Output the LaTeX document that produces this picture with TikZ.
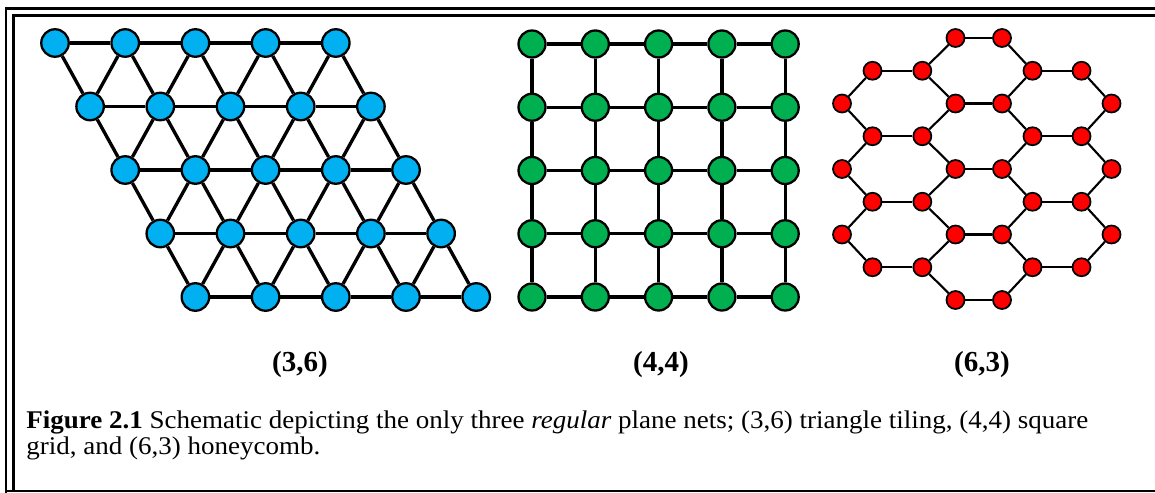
\documentclass[tikz,border=0pt]{standalone}
\usepackage{fontspec}
\setmainfont{Liberation Serif}
\usepackage{tikz}
\usetikzlibrary{positioning}
\definecolor{netblue}{HTML}{00B0F0}
\definecolor{netgreen}{HTML}{00B050}
\definecolor{netred}{HTML}{FF0000}
\tikzset{
  bluedot/.style={circle, draw=black, fill=netblue, line width=1.3pt, minimum size=0.55cm, inner sep=0pt},
  greendot/.style={circle, draw=black, fill=netgreen, line width=1.3pt, minimum size=0.54cm, inner sep=0pt},
  reddot/.style={circle, draw=black, fill=netred, line width=1pt, minimum size=0.36cm, inner sep=0pt},
  bond/.style={draw=black, line width=1.9pt},
  hexbond/.style={draw=black, line width=1.2pt},
  netlabel/.style={font=\fontsize{16.5}{19}\selectfont\bfseries},
  caption/.style={font=\fontsize{14.5}{14.6}\selectfont, align=left, anchor=base west, inner sep=0pt, xscale=1.06, transform shape}
}

\begin{document}
\begin{tikzpicture}[x=0.02cm, y=-0.02cm]
\useasboundingbox (0,0) rectangle (1155,493);
% frame
\draw[line width=1.7pt] (6,493) -- (6,8.5) -- (1155,8.5);
\draw[line width=1.4pt] (13.5,491) -- (13.5,15.5) -- (1155,15.5);
\draw[line width=1pt] (6,491) -- (1155,491);

% (3,6) triangle tiling
\foreach \r in {0,...,4}
  \foreach \c in {0,...,4}
    \node[bluedot] (t\r\c) at ({55+35.1*\r+70.2*\c},{43+63.5*\r}) {};
\foreach \r in {0,...,4}
  \foreach \c [count=\n] in {0,...,3}
    \draw[bond] (t\r\c) -- (t\r\n);
\foreach \r [evaluate=\r as \s using int(\r+1)] in {0,...,3} {
  \foreach \c in {0,...,4}
    \draw[bond] (t\r\c) -- (t\s\c);
  \foreach \c [evaluate=\c as \b using int(\c-1)] in {1,...,4}
    \draw[bond] (t\r\c) -- (t\s\b);
}

% (4,4) square grid
\foreach \r in {0,...,4}
  \foreach \c in {0,...,4}
    \node[greendot] (s\r\c) at ({532+63.3*\c},{44+63.25*\r}) {};
\foreach \r in {0,...,4}
  \foreach \c [count=\n] in {0,...,3} {
    \draw[bond] (s\r\c) -- (s\r\n);
    \draw[bond] (s\c\r) -- (s\n\r);
  }

% (6,3) honeycomb
\foreach \k/\cols in {0/{3,4},1/{1,2,5,6},2/{0,3,4,7},3/{1,2,5,6},4/{0,3,4,7},5/{1,2,5,6},6/{0,3,4,7},7/{1,2,5,6},8/{3,4}}
  \foreach \c in \cols {
    \pgfmathsetmacro\hx{{842,872.5,922.3,955.5,1002,1032.5,1081.5,1111.5}[\c]}
    \node[reddot] (h\c\k) at (\hx,{38+32.75*\k}) {};
  }
\foreach \k in {0,2,...,8}
  \draw[hexbond] (h3\k) -- (h4\k);
\foreach \k [evaluate=\k as \p using int(\k-1), evaluate=\k as \q using int(\k+1)] in {1,3,5,7} {
  \draw[hexbond] (h1\k) -- (h2\k);
  \draw[hexbond] (h5\k) -- (h6\k);
  \draw[hexbond] (h2\k) -- (h3\p);
  \draw[hexbond] (h2\k) -- (h3\q);
  \draw[hexbond] (h5\k) -- (h4\p);
  \draw[hexbond] (h5\k) -- (h4\q);
}
\foreach \k/\p in {1/2,3/2,3/4,5/4,5/6,7/6} {
  \draw[hexbond] (h1\k) -- (h0\p);
  \draw[hexbond] (h6\k) -- (h7\p);
}

% labels and caption
\node[netlabel] (lab36) at (300,365) {(3,6)};
\node[netlabel] (lab44) at (661,365) {(4,4)};
\node[netlabel] (lab63) at (982,365) {(6,3)};
\node[caption] (cap) at (26,454) {\textbf{Figure 2.1} Schematic depicting the only three \textit{regular} plane nets; (3,6) triangle tiling, (4,4) square\\grid, and (6,3) honeycomb.};
\end{tikzpicture}
\end{document}
